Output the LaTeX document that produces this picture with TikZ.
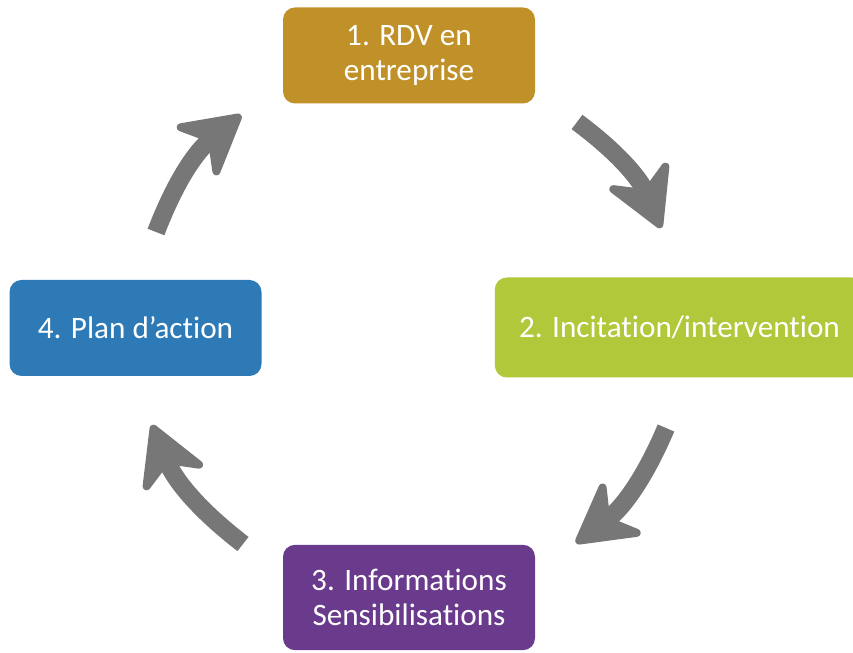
\documentclass[tikz,border=0pt]{standalone}
\usepackage{fontspec}
\setmainfont{Carlito}[Ligatures=NoCommon]
\usepackage{xcolor}
\usetikzlibrary{arrows.meta, positioning}
\definecolor{gold}{RGB}{192,145,40}
\definecolor{lime}{RGB}{176,200,58}
\definecolor{plum}{RGB}{106,58,140}
\definecolor{ocean}{RGB}{46,122,182}
\definecolor{slate}{RGB}{119,119,119}

\begin{document}
\begin{tikzpicture}[
  x=0.75pt, y=0.75pt,
  box/.style={rectangle, rounded corners=9pt, minimum width=189pt, minimum height=72pt, align=center, text=white, font=\fontsize{23.4}{26.5}\selectfont, inner sep=0pt},
  cyc/.style={-{Stealth[length=52pt, width=58pt, inset=17pt, round, line width=6pt]}, line width=13.5pt, draw=slate}
]
\useasboundingbox (0,0) rectangle (853,653);

% Steps
\node[box, fill=gold] (rdv) at (409,597.5) {1. RDV en\\entreprise};
\node[box, fill=lime, minimum width=277pt, minimum height=75pt] (inc) at (679.5,325.5) {2. Incitation/intervention};
\node[box, fill=plum, minimum height=79pt] (info) at (409,55.5) {3. Informations\\Sensibilisations};
\node[box, fill=ocean] (plan) at (135.5,325) {4. Plan d'action};

% Arrow ends
\coordinate (a1s) at (577,531);
\coordinate (a1e) at (661,425);
\coordinate (a2s) at (666,225);
\coordinate (a2e) at (576,110);
\coordinate (a3s) at (243,109);
\coordinate (a3e) at (152,228);
\coordinate (a4s) at (156,421);
\coordinate (a4e) at (241,538);

% Arrows
\draw[cyc] (a1s) to[bend left=15] (a1e);
\draw[cyc] (a2s) to[bend left=15] (a2e);
\draw[cyc] (a3s) to[bend left=15] (a3e);
\draw[cyc] (a4s) to[bend left=15] (a4e);

\end{tikzpicture}
\end{document}
